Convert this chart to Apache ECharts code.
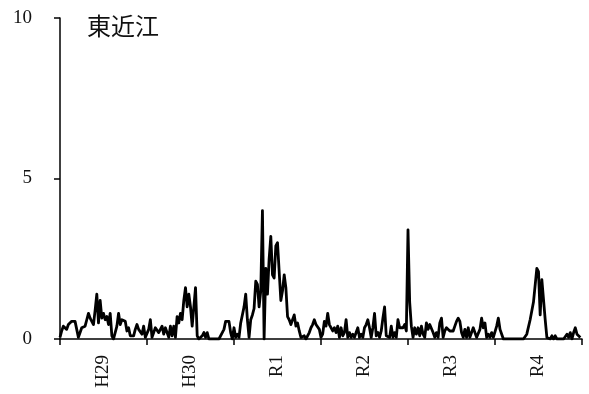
<!DOCTYPE html>
<html>
<head>
<meta charset="utf-8">
<script src="https://cdn.jsdelivr.net/npm/echarts@6/dist/echarts.min.js"></script>
<style>
  html, body { margin: 0; padding: 0; background: #fff; }
  #chart { width: 589px; height: 394px; }
</style>
</head>
<body>
<div id="chart"></div>
<script>
// Fiscal years shown on the horizontal axis
const years = ['H29', 'H30', 'R1', 'R2', 'R3', 'R4'];

// Weekly values (52 per fiscal year)
const valuesH29 = [0.05,0.25,0.4,0.35,0.3,0.45,0.45,0.55,0.6,0.55,0.3,0.05,0.2,0.35,0.3,0.4,0.6,0.8,0.65,0.6,0.45,0.9,1.4,0.5,1.2,0.65,0.8,0.6,0.7,0.45,0.8,0.1,0.0,0.0,0.4,0.8,0.45,0.6,0.55,0.55,0.25,0.35,0.1,0.05,0.1,0.3,0.45,0.3,0.35,0.15,0.4,0.05];
const valuesH30 = [0.0,0.3,0.6,0.05,0.2,0.35,0.4,0.2,0.3,0.4,0.15,0.35,0.4,0.05,0.4,0.1,0.4,0.05,0.7,0.5,0.8,0.6,1.2,1.6,1.0,1.4,1.0,0.4,1.0,1.6,0.1,0.0,0.0,0.1,0.2,0.05,0.2,0.0,0.0,0.0,0.0,0.0,0.0,0.0,0.05,0.2,0.3,0.55,0.6,0.55,0.2,0.0];
const valuesR1 = [0.35,0.05,0.15,0.05,0.5,0.75,1.0,1.4,0.6,0.05,0.6,0.75,0.95,1.8,1.7,1.0,1.5,4.0,0.0,2.2,1.4,2.5,3.2,2.0,1.9,2.9,3.0,3.0,1.2,1.5,2.0,1.6,0.7,0.6,0.45,0.4,0.75,0.4,0.5,0.25,0.05,0.0,0.1,0.0,0.0,0.2,0.35,0.45,0.6,0.45,0.4,0.3];
const valuesR2 = [0.05,0.15,0.55,0.4,0.8,0.45,0.4,0.25,0.35,0.2,0.4,0.05,0.35,0.1,0.2,0.6,0.05,0.2,0.05,0.15,0.05,0.2,0.35,0.05,0.15,0.05,0.35,0.45,0.6,0.35,0.05,0.35,0.8,0.1,0.2,0.05,0.25,0.65,1.0,0.1,0.15,0.05,0.4,0.05,0.2,0.05,0.6,0.35,0.4,0.35,0.45,0.25];
const valuesR3 = [3.4,1.15,0.4,0.05,0.35,0.15,0.35,0.1,0.4,0.15,0.05,0.5,0.3,0.45,0.5,0.2,0.05,0.2,0.05,0.5,0.65,0.05,0.25,0.35,0.35,0.25,0.3,0.25,0.4,0.55,0.65,0.55,0.2,0.05,0.3,0.05,0.35,0.05,0.05,0.35,0.35,0.05,0.1,0.3,0.65,0.35,0.5,0.05,0.15,0.05,0.2,0.05];
const valuesR4 = [0.0,0.4,0.65,0.3,0.15,0.0,0.0,0.0,0.0,0.0,0.0,0.0,0.0,0.0,0.0,0.0,0.0,0.0,0.0,0.15,0.15,0.6,0.65,1.15,1.1,2.2,2.1,0.75,1.85,1.8,0.6,0.05,0.1,0.0,0.1,0.0,0.1,0.0,0.0,0.0,0.0,0.0,0.0,0.15,0.05,0.2,0.0,0.2,0.35,0.15,0.2,0.05];

// Vertical axis range and step
const yMin = 0, yMax = 10, yStep = 5;
const weeksPerYear = 52;

const allYears = [valuesH29, valuesH30, valuesR1, valuesR2, valuesR3, valuesR4];
const seriesData = [];
allYears.forEach((arr, y) => {
  arr.forEach((v, w) => seriesData.push([y + w / weeksPerYear, v]));
});

const serif = '"Liberation Serif", "DejaVu Serif", serif';
const chart = echarts.init(document.getElementById('chart'), null, { renderer: 'canvas' });

chart.setOption({
  animation: false,
  backgroundColor: '#ffffff',
  title: {
    text: '東近江',
    left: 82,
    top: 9,
    textStyle: {
      fontFamily: '"Noto Sans CJK JP", sans-serif',
      fontWeight: 'normal',
      fontSize: 24,
      color: '#111'
    }
  },
  grid: { left: 60, right: 7, top: 18, bottom: 55, containLabel: false },
  xAxis: [
    {
      type: 'value',
      min: 0,
      max: years.length,
      interval: 1,
      axisLine: { show: true, lineStyle: { color: '#000', width: 1.5 } },
      axisTick: { show: true, inside: false, length: 6, lineStyle: { color: '#000', width: 1.5 } },
      axisLabel: { show: false },
      splitLine: { show: false }
    },
    {
      type: 'category',
      data: years,
      boundaryGap: true,
      position: 'bottom',
      axisLine: { show: false },
      axisTick: { show: false },
      splitLine: { show: false },
      axisLabel: {
        rotate: 90,
        margin: 16,
        fontFamily: serif,
        fontSize: 19,
        color: '#111'
      }
    }
  ],
  yAxis: {
    type: 'value',
    min: yMin,
    max: yMax,
    interval: yStep,
    axisLine: { show: true, lineStyle: { color: '#000', width: 1.5 } },
    axisTick: { show: true, inside: false, length: 6, lineStyle: { color: '#000', width: 1.5 } },
    splitLine: { show: false },
    axisLabel: {
      margin: 28,
      fontFamily: serif,
      fontSize: 19,
      color: '#111'
    }
  },
  series: [
    {
      type: 'line',
      xAxisIndex: 0,
      data: seriesData,
      showSymbol: false,
      symbol: 'none',
      lineStyle: { color: '#000', width: 2.8, join: 'round' },
      z: 3
    }
  ]
});
</script>
</body>
</html>
